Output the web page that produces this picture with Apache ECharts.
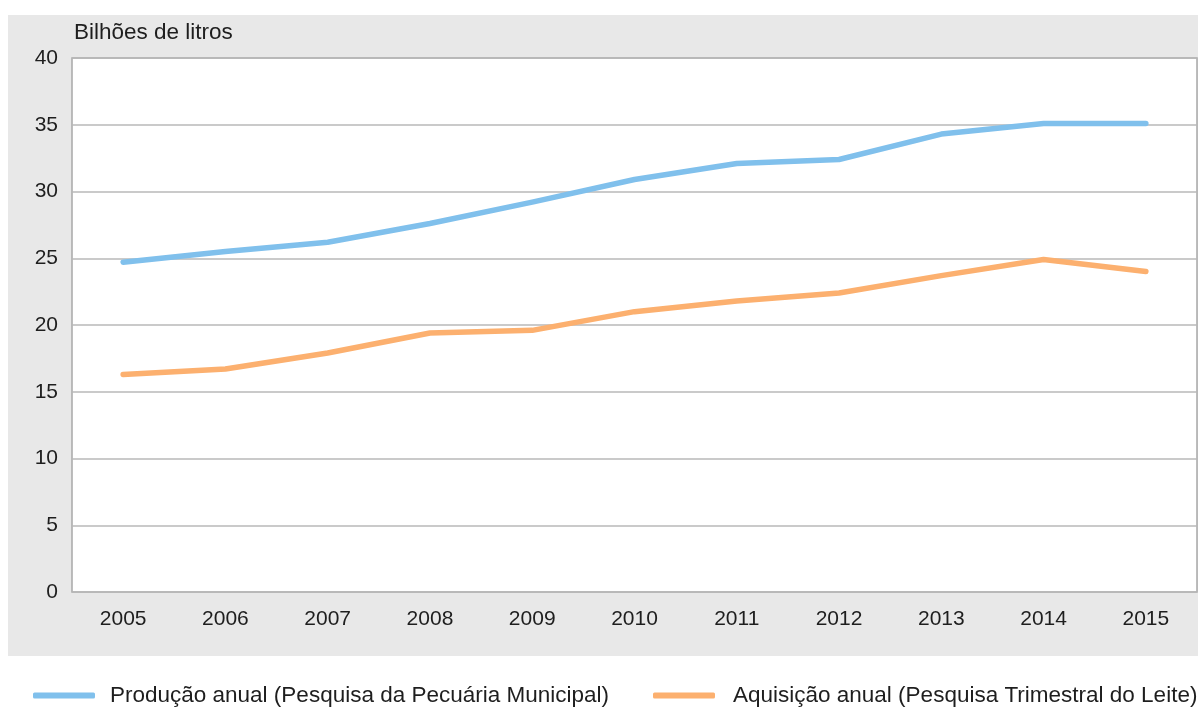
<!DOCTYPE html>
<html>
<head>
<meta charset="utf-8">
<script src="https://cdn.jsdelivr.net/npm/echarts@6/dist/echarts.min.js"></script>
<style>
  html, body { margin: 0; padding: 0; background: #ffffff; }
  #chart { width: 1198px; height: 707px; }
</style>
</head>
<body>
<div id="chart"></div>
<script>
// Produção e aquisição de leite, 2005–2015 (bilhões de litros)
const anos = ['2005', '2006', '2007', '2008', '2009', '2010', '2011', '2012', '2013', '2014', '2015'];
const producaoAnual = [24.7, 25.5, 26.2, 27.6, 29.2, 30.9, 32.1, 32.4, 34.3, 35.1, 35.1];
const aquisicaoAnual = [16.3, 16.7, 17.9, 19.4, 19.6, 21.0, 21.8, 22.4, 23.7, 24.9, 24.0];
const nomeProducao = 'Produção anual (Pesquisa da Pecuária Municipal)';
const nomeAquisicao = 'Aquisição anual (Pesquisa Trimestral do Leite)';
const unidade = 'Bilhões de litros';

const fonte = '"Liberation Sans", Arial, Helvetica, sans-serif';
const corTexto = '#1e1e1e';
const azul = '#80c0ec';
const laranja = '#fcb06f';

const chart = echarts.init(document.getElementById('chart'), null, { renderer: 'canvas' });

chart.setOption({
  animation: false,
  backgroundColor: '#ffffff',
  textStyle: { fontFamily: fonte },
  graphic: [
    {
      type: 'rect',
      z: -10,
      silent: true,
      shape: { x: 8, y: 15, width: 1190, height: 641 },
      style: { fill: '#e8e8e8' }
    },
    {
      type: 'text',
      left: 74,
      top: 21,
      style: { text: unidade, font: '22.5px ' + fonte, fill: corTexto }
    }
  ],
  grid: {
    left: 72,
    right: 1,
    top: 58,
    bottom: 115,
    show: true,
    backgroundColor: '#ffffff',
    borderColor: '#a8a8a8',
    borderWidth: 1.5,
    containLabel: false
  },
  legend: [
    {
      data: [nomeProducao],
      left: 28,
      top: 679,
      itemWidth: 62,
      itemHeight: 6,
      icon: 'roundRect',
      textStyle: { fontSize: 22.5, color: corTexto, fontFamily: fonte, padding: [0, 0, 0, 10] }
    },
    {
      data: [nomeAquisicao],
      left: 648,
      top: 679,
      itemWidth: 62,
      itemHeight: 6,
      icon: 'roundRect',
      textStyle: { fontSize: 22.5, color: corTexto, fontFamily: fonte, padding: [0, 0, 0, 13] }
    }
  ],
  xAxis: {
    type: 'category',
    data: anos,
    boundaryGap: true,
    axisLine: { show: false },
    axisTick: { show: false },
    axisLabel: { fontSize: 21, color: corTexto, margin: 17, fontFamily: fonte },
    splitLine: { show: false }
  },
  yAxis: {
    type: 'value',
    min: 0,
    max: 40,
    interval: 5,
    axisLine: { show: false },
    axisTick: { show: false },
    axisLabel: { fontSize: 21, color: corTexto, margin: 14, fontFamily: fonte },
    splitLine: { show: true, lineStyle: { color: '#b8b8b8', width: 1.5 } }
  },
  series: [
    {
      name: nomeProducao,
      type: 'line',
      data: producaoAnual,
      symbol: 'none',
      lineStyle: { color: azul, width: 5.5, cap: 'round', join: 'round' },
      itemStyle: { color: azul }
    },
    {
      name: nomeAquisicao,
      type: 'line',
      data: aquisicaoAnual,
      symbol: 'none',
      lineStyle: { color: laranja, width: 5.5, cap: 'round', join: 'round' },
      itemStyle: { color: laranja }
    }
  ]
});
</script>
</body>
</html>
